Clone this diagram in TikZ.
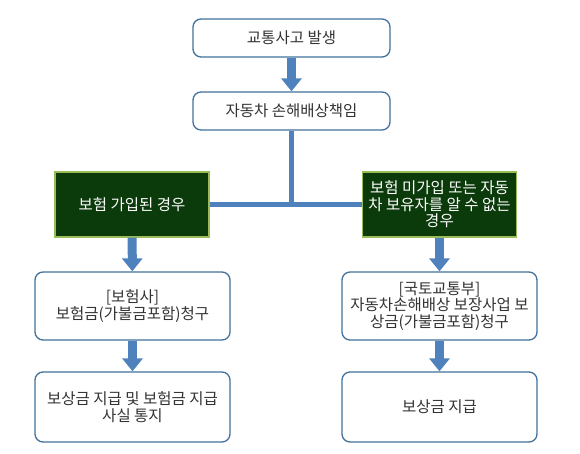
\documentclass[tikz,border=0pt]{standalone}
\usepackage{fontspec}
\setmainfont{Noto Sans CJK KR}
\usetikzlibrary{arrows.meta}
\definecolor{accblue}{HTML}{4F81BD}
\definecolor{accedge}{HTML}{41719C}
\definecolor{casegreen}{HTML}{0B3A0B}
\definecolor{caseedge}{HTML}{9BBB59}
\definecolor{txtgray}{HTML}{333333}

\begin{document}
\begin{tikzpicture}[x=1pt,y=-1pt,
  stepbox/.style={draw=accedge,line width=1.3pt,rounded corners=8pt,fill=white,text=txtgray,
    align=center,inner sep=2pt,font=\fontsize{15.5}{16.5}\selectfont},
  casebox/.style={draw=caseedge,line width=1.2pt,fill=casegreen,text=white,align=center,
    minimum width=154pt,minimum height=65pt,inner sep=2pt,font=\fontsize{15.5}{16.5}\selectfont},
  flow/.style={draw=accblue,line width=9pt,-{Triangle[width=20pt,length=13pt]}},
  link/.style={draw=accblue,line width=5pt}]
  \useasboundingbox (0,0) rectangle (580,454);
  % top
  \node[stepbox,minimum width=197pt,minimum height=38pt] (acc) at (291.5,38) {교통사고 발생};
  \node[stepbox,minimum width=197pt,minimum height=38pt] (liab) at (291.5,111) {자동차 손해배상책임};
  % cases
  \node[casebox] (ins) at (132,204.5) {보험 가입된 경우};
  \node[casebox] (unins) at (439.5,204.5) {보험 미가입 또는 자동\\차 보유자를 알 수 없는\\경우};
  % claims
  \node[stepbox,minimum width=195pt,minimum height=68pt] (insco) at (132.5,306) {[보험사]\\보험금(가불금포함)청구};
  \node[stepbox,minimum width=195pt,minimum height=68pt] (molit) at (439.5,306) {[국토교통부]\\자동차손해배상 보장사업 보\\상금(가불금포함)청구};
  \node[stepbox,minimum width=195pt,minimum height=70pt] (payL) at (132.5,407) {보상금 지급 및 보험금 지급\\사실 통지};
  \node[stepbox,minimum width=195pt,minimum height=70pt] (payR) at (439.5,407) {보상금 지급};

  \draw[flow] (acc) -- (liab);
  \draw[link] (liab.south) -- (liab.south |- ins.east);
  \draw[link] (ins.east) -- (unins.west);
  \draw[flow] (ins) -- (insco);
  \draw[flow] (unins) -- (molit);
  \draw[flow] (insco) -- (payL);
  \draw[flow] (molit) -- (payR);
\end{tikzpicture}
\end{document}
